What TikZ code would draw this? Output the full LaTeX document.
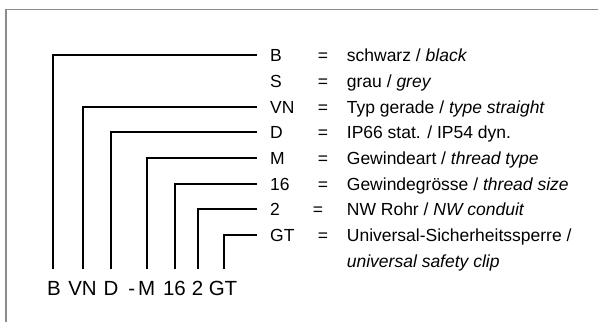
\documentclass[tikz,border=0pt]{standalone}
\usepackage{fontspec}
\setmainfont{Liberation Sans}
\usetikzlibrary{positioning}

\tikzset{
  code/.style={anchor=west,inner sep=0pt,text height=13pt,text depth=0pt,font=\fontsize{17.5}{20}\selectfont},
  eqsign/.style={anchor=base,inner sep=0pt,font=\fontsize{17.5}{20}\selectfont},
  desc/.style={anchor=base west,inner sep=0pt,font=\fontsize{17.5}{20}\selectfont},
  part/.style={anchor=base,inner sep=0pt,text height=15pt,text depth=0pt,font=\fontsize{20.5}{24}\selectfont},
  lead/.style={line width=2pt,shorten <=10.7pt,shorten >=13.3pt}
}

\begin{document}
\begin{tikzpicture}[x=1pt,y=1pt]

\useasboundingbox (0,0) rectangle (598,322);

\draw[color=black!45,line width=1.3pt] (6,0)--(6,312.5)--(598,312.5);

% codes on the right
\node[code] (cB) at (270,266.5) {B};
\node[code] (cS) at (270,240.9) {S};
\node[code] (cVN) at (270,215.2) {VN};
\node[code] (cD) at (270,189.6) {D};
\node[code] (cM) at (270,163.9) {M};
\node[code] (c16) at (270,138.3) {16};
\node[code] (c2) at (270,112.7) {2};
\node[code] (cGT) at (270,87.0) {GT};

\node[eqsign] (eB) at (323,260.0) {=};
\node[eqsign] (eS) at (323,234.4) {=};
\node[eqsign] (eVN) at (323,208.7) {=};
\node[eqsign] (eD) at (323,183.1) {=};
\node[eqsign] (eM) at (323,157.4) {=};
\node[eqsign] (e16) at (323,131.8) {=};
\node[eqsign] (e2) at (318,106.2) {=};
\node[eqsign] (eGT) at (323,80.5) {=};

\node[desc] (dB) at (346.7,260.0) {schwarz / \textit{black}};
\node[desc] (dS) at (346.7,234.4) {grau / \textit{grey}};
\node[desc] (dVN) at (346.7,208.7) {Typ gerade / \textit{type straight}};
\node[desc] (dD) at (346.7,183.1) {IP66 stat. / IP54 dyn.};
\node[desc] (dM) at (346.7,157.4) {Gewindeart / \textit{thread type}};
\node[desc] (d16) at (346.7,131.8) {Gewindegrösse / \textit{thread size}};
\node[desc] (d2) at (346.7,106.2) {NW Rohr / \textit{NW conduit}};
\node[desc] (dGT) at (346.7,80.5) {Universal-Sicherheitssperre /};
\node[desc] (dGTb) at (346.7,54.9) {\textit{universal safety clip}};

% type code at the bottom
\node[part] (pB) at (54,27) {B};
\node[part] (pVN) at (82.5,27) {VN};
\node[part] (pD) at (111,27) {D};
\node[part] (pdash) at (131.7,27) {-};
\node[part] (pM) at (146.7,27) {M};
\node[part] (p16) at (174.5,27) {16};
\node[part] (p2) at (197.5,27) {2};
\node[part] (pGT) at (223,27) {GT};

\draw[lead] ([xshift=-0.7pt]pB.north) |- (cB.west);
\draw[lead] ([xshift=0.8pt]pVN.north) |- (cVN.west);
\draw[lead] (pD.north) |- (cD.west);
\draw[lead] (pM.north) |- (cM.west);
\draw[lead] (p16.north) |- (c16.west);
\draw[lead] (p2.north) |- (c2.west);
\draw[lead] ([xshift=1.3pt]pGT.north) |- (cGT.west);

\end{tikzpicture}
\end{document}
